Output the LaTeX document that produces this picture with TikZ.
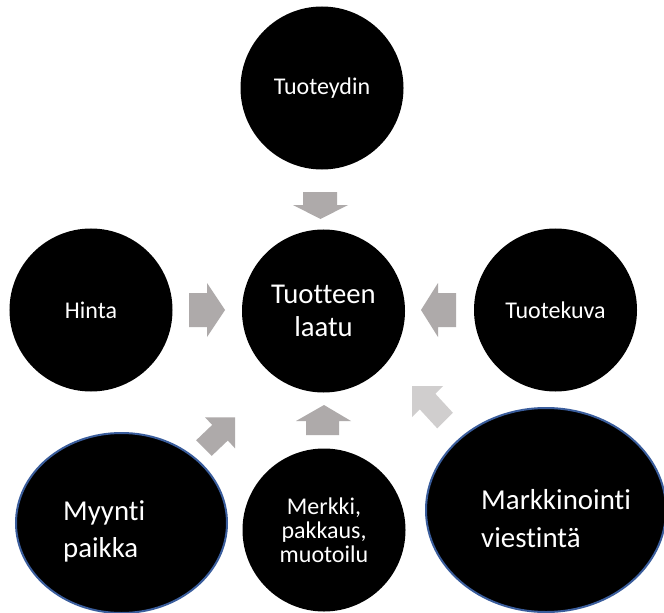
\documentclass[tikz,border=0pt]{standalone}
\usepackage{fontspec}
\setmainfont{Carlito}[Ligatures={NoCommon}]
\usetikzlibrary{shapes.geometric}
\definecolor{arrowgray}{HTML}{AEAAAA}
\definecolor{arrowlight}{HTML}{D0CECE}
\definecolor{rimblue}{HTML}{3A5D9C}
\begin{document}
\begin{tikzpicture}[x=1bp,y=-1bp,
  disc/.style={circle,fill=black,draw=none,minimum size=163bp,inner sep=0pt,text=white,align=center,
    font=\fontsize{24bp}{24.2bp}\selectfont},
  coredisc/.style={disc,font=\fontsize{28.7bp}{33bp}\selectfont},
  oval/.style={ellipse,fill=black,draw=rimblue,line width=2bp,inner sep=0pt},
  ovaltext/.style={text=white,align=left,inner sep=0pt,anchor=base west},
  blockarrow/.style={fill=arrowgray,draw=none},
  lightarrow/.style={fill=arrowlight,draw=none}]
\useasboundingbox (0,0) rectangle (664,613);
\clip (0,0) rectangle (664,613);
\fill[white] (0,0) rectangle (664,613);
% discs
\node[disc] (ydin) at (322,88) {Tuoteydin};
\node[coredisc] (laatu) at (323.5,311) {Tuotteen\\laatu};
\node[disc] (hinta) at (91,310) {Hinta};
\node[disc] (kuva) at (555.5,310) {Tuotekuva};
\node[disc] (merkki) at (324,530) {Merkki,\\pakkaus,\\muotoilu};
% ovals
\node[oval,minimum width=211bp,minimum height=180bp] (myynti) at (121.5,523) {};
\node[ovaltext,font=\fontsize{28.8bp}{37bp}\selectfont] (myyntitext) at (63,557) {Myynti\\paikka};
\node[oval,minimum width=240bp,minimum height=204bp] (markk) at (546,510) {};
\node[ovaltext,font=\fontsize{28.9bp}{38bp}\selectfont] (markktext) at (481,547) {Markkinointi\\viestintä};
% block arrows
\fill[blockarrow] (303,192) -- (337,192) -- (337,205) -- (348,205) -- (320.5,219) -- (293,205) -- (303,205) -- cycle;
\fill[blockarrow] (189,293) -- (207,293) -- (207,283) -- (225,310) -- (207,337) -- (207,327) -- (189,327) -- cycle;
\fill[blockarrow] (456,293) -- (438,293) -- (438,283) -- (421,310) -- (438,337) -- (438,327) -- (456,327) -- cycle;
\fill[blockarrow] (306,435) -- (306,421) -- (296,421) -- (324,405) -- (351,421) -- (339,421) -- (339,435) -- cycle;
\fill[blockarrow] (196.2,440.2) -- (212.2,424.9) -- (205,417.3) -- (235,417.3) -- (235,448.3) -- (227.8,440.5) -- (211.8,455.8) -- cycle;
\fill[lightarrow] (412,386) -- (443,386) -- (435.3,393.7) -- (452.8,412.7) -- (437.2,428.3) -- (419.7,409.3) -- (412,417) -- cycle;
\end{tikzpicture}
\end{document}
